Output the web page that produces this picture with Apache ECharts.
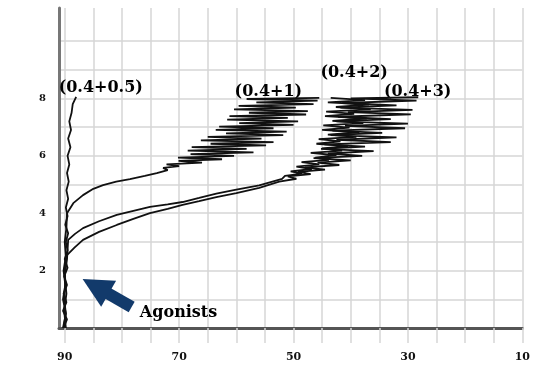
<!DOCTYPE html>
<html>
<head>
<meta charset="utf-8">
<script src="https://cdn.jsdelivr.net/npm/echarts@6/dist/echarts.min.js"></script>
<style>
  html, body { margin: 0; padding: 0; background: #fff; }
  #chart { width: 533px; height: 372px; }
</style>
</head>
<body>
<div id="chart"></div>
<script>
// curves: [x, y], x axis runs 90 -> 10
const curveA = [[90.2,0],[89.6,0.3],[90.3,0.6],[89.7,0.9],[90.2,1.2],[89.6,1.5],[90.1,1.8],[89.5,2.1],[90.0,2.4],
  [89.5,2.7],[89.8,3.0],[89.4,3.3],[89.9,3.6],[89.5,3.9],[89.8,4.2],[89.4,4.5],[89.7,4.8],[89.3,5.1],[89.6,5.4],
  [89.2,5.7],[89.5,6.0],[89.0,6.3],[89.4,6.6],[88.9,6.9],[89.2,7.2],[88.8,7.5],[88.6,7.8],[88.0,8.05]]

const curveB = [[90.2,0],[89.8,0.5],[90.3,1],[89.9,1.5],[90.2,2],[89.8,2.5],[90.0,3],[89.7,3.5],[89.6,4.0],
  [88.5,4.35],[86.8,4.63],[85,4.85],[83.3,4.98],[81,5.1],[78.6,5.19],[76,5.3],[73.9,5.4],[72,5.5],
  [72.8,5.58],[70.0,5.64],[72.2,5.70],[66.0,5.76],[70.1,5.82],[62.5,5.88],[70.2,5.94],[60.4,6.00],[68.0,6.06],
  [57.0,6.12],[68.5,6.18],[58.2,6.24],[67.8,6.30],[54.8,6.36],[64.5,6.42],[53.5,6.48],[66.2,6.54],[55.6,6.60],
  [65.0,6.66],[51.8,6.72],[61.8,6.78],[51.2,6.84],[63.6,6.90],[53.5,6.96],[63.0,7.02],[50.0,7.08],[59.5,7.14],
  [49.2,7.20],[61.6,7.26],[51.0,7.32],[61.2,7.38],[47.8,7.44],[57.8,7.50],[47.5,7.56],[60.4,7.62],[49.6,7.68],
  [59.6,7.74],[46.5,7.80],[56.5,7.86],[45.8,7.92],[58.2,7.98],[45.5,8.02]]

const curveC = [[89.8,0],[90.1,0.6],[89.7,1.2],[90.0,1.8],[89.6,2.4],[89.4,3.07],[88.2,3.28],[86.8,3.48],[84,3.72],
  [80.9,3.94],[78,4.08],[75.1,4.22],[72,4.31],[69.4,4.39],[66.5,4.53],[63.5,4.68],[60,4.82],[56,4.97],[52,5.2],
  [51.5,5.30],[48.5,5.38],[50.5,5.46],[46.8,5.54],[49.5,5.62],[45.5,5.70],[48.6,5.78],[43.8,5.86],[46.2,5.94],
  [42.5,6.02],[47.0,6.10],[41.5,6.18],[45.0,6.26],[40.5,6.34],[46.0,6.42],[41.8,6.50],[45.6,6.58],[39.0,6.66],
  [44.0,6.74],[38.5,6.82],[45.0,6.90],[40.2,6.98],[44.8,7.06],[37.8,7.14],[43.2,7.22],[37.2,7.30],[44.5,7.38],
  [39.4,7.46],[44.3,7.54],[36.5,7.62],[42.6,7.70],[36.8,7.78],[44.0,7.86],[37.5,7.94],[43.5,8.02]]

const curveD = [[90.3,0],[89.8,0.5],[90.1,1.0],[89.9,1.6],[90.0,2.1],[89.6,2.54],[88.3,2.8],[86.8,3.07],[84,3.35],
  [80.9,3.59],[78,3.8],[75.1,4.0],[72,4.15],[69.4,4.29],[66.5,4.42],[63.5,4.56],[60,4.7],[56,4.88],[52.5,5.1],
  [49.5,5.20],[51.0,5.28],[47.0,5.36],[49.2,5.44],[44.5,5.52],[48.0,5.60],[42.0,5.68],[45.8,5.76],[40.0,5.84],
  [46.5,5.92],[38.0,6.00],[44.0,6.08],[36.0,6.16],[45.2,6.24],[37.5,6.32],[44.6,6.40],[33.0,6.48],[42.5,6.56],
  [32.0,6.64],[43.5,6.72],[34.5,6.80],[43.2,6.88],[30.5,6.96],[41.0,7.04],[30.0,7.12],[42.5,7.20],[33.0,7.28],
  [42.2,7.36],[29.5,7.44],[40.5,7.52],[29.2,7.60],[41.8,7.68],[32.0,7.76],[41.5,7.84],[28.5,7.92],[40.0,8.00],[28.2,8.04]]

// curve labels
const labelNames = ['(0.4+0.5)', '(0.4+1)', '(0.4+2)', '(0.4+3)']
const labelX = [83.7, 54.4, 39.4, 28.3]
const labelY = [8.36, 8.22, 8.89, 8.22]

// arrow + note
const arrowFrom = [78.3, 0.73]
const arrowTo = [84.6, 1.45]
const noteText = 'Agonists'
const notePos = [70.1, 0.52]

const xTickLabels = [10, 30, 50, 70, 90]
const yTickLabels = [2, 4, 6, 8]

const serif = 'DejaVu Serif'
const gridColor = '#d6d6d6'

var myChart = echarts.init(document.getElementById('chart'))

const lineSeries = (data) => ({
  type: 'line',
  data: data,
  showSymbol: false,
  symbol: 'none',
  silent: true,
  animation: false,
  lineStyle: { color: '#111', width: 1.8 }
})

// split line colours: hide the one at 11 (and the max)
let yLineColors = []
for (let i = 0; i <= 12; i++) yLineColors.push(i >= 11 ? 'rgba(0,0,0,0)' : gridColor)

const option = {
  animation: false,
  backgroundColor: '#fff',
  grid: { left: 59, right: 10, top: 8, bottom: 44 },
  xAxis: {
    type: 'value',
    inverse: true,
    min: 10,
    max: 91,
    interval: 5,
    axisLine: { show: true, onZero: false, lineStyle: { color: '#555', width: 3 } },
    axisTick: { show: true, length: 15, lineStyle: { color: gridColor, width: 1.5 } },
    axisLabel: {
      margin: 24,
      color: '#111',
      fontFamily: serif,
      fontWeight: 'bold',
      fontSize: 11,
      showMaxLabel: false,
      formatter: (v) => xTickLabels.indexOf(v) >= 0 ? String(v) : ''
    },
    splitLine: { show: true, lineStyle: { color: gridColor, width: 1.5 } }
  },
  yAxis: {
    type: 'value',
    min: 0,
    max: 11.15,
    interval: 1,
    axisLine: { show: true, lineStyle: { color: '#777', width: 3 } },
    axisTick: { show: false },
    axisLabel: {
      margin: 13,
      color: '#111',
      fontFamily: serif,
      fontWeight: 'bold',
      fontSize: 10,
      showMaxLabel: false,
      formatter: (v) => yTickLabels.indexOf(v) >= 0 ? String(v) : ''
    },
    splitLine: { show: true, lineStyle: { color: yLineColors, width: 1.5 } }
  },
  series: [
    lineSeries(curveA),
    lineSeries(curveB),
    lineSeries(curveC),
    lineSeries(curveD),
    {
      type: 'scatter',
      silent: true,
      symbolSize: 0,
      itemStyle: { opacity: 1 },
      data: labelNames.map((n, i) => ({ name: n, value: [labelX[i], labelY[i]] }))
        .concat([{ name: noteText, value: notePos }]),
      label: {
        show: true,
        position: 'inside',
        formatter: '{b}',
        color: '#000',
        opacity: 1,
        fontFamily: serif,
        fontWeight: 'bold',
        fontSize: 16
      },
      markLine: {
        silent: true,
        animation: false,
        symbol: ['none', 'triangle'],
        symbolSize: 30,
        label: { show: false },
        itemStyle: { color: '#123a6b' },
        lineStyle: { color: '#123a6b', width: 12, type: 'solid', opacity: 1 },
        emphasis: { disabled: true },
        data: [[{ coord: arrowFrom }, { coord: arrowTo }]]
      }
    }
  ]
}
myChart.setOption(option)
</script>
</body>
</html>
